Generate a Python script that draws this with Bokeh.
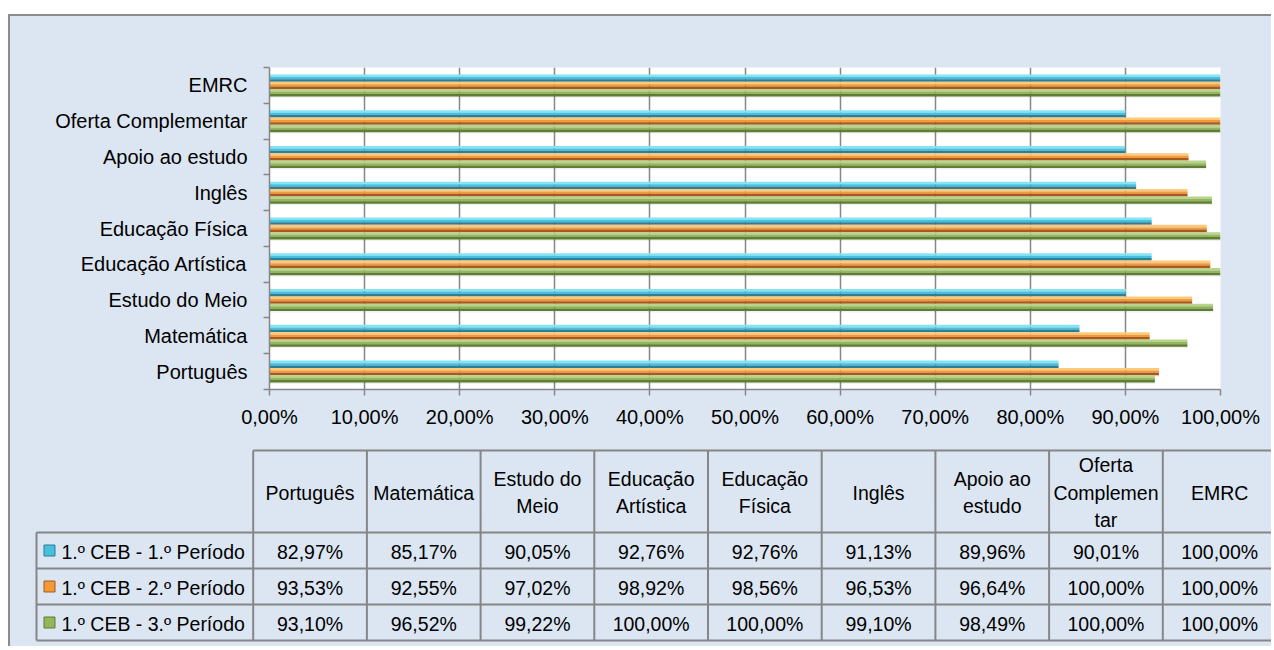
from bokeh.plotting import figure
from bokeh.models import Range1d, FixedTicker, CustomJSTickFormatter
from bokeh.core.properties import value
from bokeh.embed import file_html
from bokeh.resources import INLINE

# ---------------- data ----------------
categories = ["Português", "Matemática", "Estudo do Meio", "Educação Artística",
              "Educação Física", "Inglês", "Apoio ao estudo", "Oferta Complementar", "EMRC"]
header_labels = ["Português", "Matemática", "Estudo do\nMeio", "Educação\nArtística",
                 "Educação\nFísica", "Inglês", "Apoio ao\nestudo", "Oferta\nComplemen\ntar", "EMRC"]
series_names = ["1.º CEB - 1.º Período", "1.º CEB - 2.º Período", "1.º CEB - 3.º Período"]
periodo1 = [82.97, 85.17, 90.05, 92.76, 92.76, 91.13, 89.96, 90.01, 100.00]
periodo2 = [93.53, 92.55, 97.02, 98.92, 98.56, 96.53, 96.64, 100.00, 100.00]
periodo3 = [93.10, 96.52, 99.22, 100.00, 100.00, 99.10, 98.49, 100.00, 100.00]
x_ticks = [0, 10, 20, 30, 40, 50, 60, 70, 80, 90, 100]

# ---------------- style ----------------
BG = "#dce6f2"
GRID = "#868686"
FONT = "Liberation Sans"
FS = "19.5px"
FS_AX = "20px"
W = 1263
# (light, main, dark) for each series
palettes = [("#86e3f6", "#46c0dd", "#2c7f95"),
            ("#fdc97c", "#f29a38", "#a9581f"),
            ("#bad38c", "#93b55b", "#5f7d33")]
series_values = [periodo1, periodo2, periodo3]

# ---------------- bar chart ----------------
p = figure(width=W, height=424, x_range=Range1d(0, 100), y_range=Range1d(0, len(categories)),
           output_backend="svg", toolbar_location=None,
           min_border_left=259, min_border_right=W + 10 - 1220, min_border_top=51, min_border_bottom=51,
           background_fill_color="white", border_fill_color=BG, outline_line_color=None)
p.margin = (14, 0, 0, 8)
p.styles = {"border-left": "2px solid #8c8c8c", "border-top": "2px solid #8c8c8c",
            "background-color": BG}

H = 0.205
offsets = [H, 0.0, -H]
ypos = [i + 0.5 for i in range(len(categories))]
for vals, off, (light, main, dark) in zip(series_values, offsets, palettes):
    yc = [y + off for y in ypos]
    p.hbar(y=[y - 0.04 for y in yc], height=H, left=0, right=vals,
           fill_color="#000000", fill_alpha=0.06, line_color=None)
    p.hbar(y=[y + 0.325 * H for y in yc], height=0.35 * H, left=0, right=vals,
           fill_color=light, line_color=None)
    p.hbar(y=yc, height=0.30 * H, left=0, right=vals, fill_color=main, line_color=None)
    p.hbar(y=[y - 0.325 * H for y in yc], height=0.35 * H, left=0, right=vals,
           fill_color=dark, line_color=None)

p.xaxis.ticker = FixedTicker(ticks=x_ticks)
p.xaxis.formatter = CustomJSTickFormatter(code="return tick.toFixed(2).replace('.', ',') + '%';")
p.yaxis.ticker = FixedTicker(ticks=ypos, minor_ticks=list(range(len(categories) + 1)))
p.yaxis.formatter = CustomJSTickFormatter(args=dict(names=categories),
                                          code="return names[Math.floor(tick)];")
for ax in (p.xaxis, p.yaxis):
    ax.axis_line_color = GRID
    ax.axis_line_width = 1.5
    ax.major_label_text_font = FONT
    ax.major_label_text_font_size = FS_AX
    ax.major_label_text_color = "#000000"
    ax.major_tick_line_color = GRID
    ax.major_tick_line_width = 1.5
    ax.minor_tick_line_color = GRID
    ax.minor_tick_line_width = 1.5
p.xaxis.major_tick_out = 6
p.xaxis.major_tick_in = 0
p.xaxis.major_label_standoff = 10
p.yaxis.major_tick_out = 0
p.yaxis.major_tick_in = 0
p.yaxis.minor_tick_out = 6
p.yaxis.minor_tick_in = 0
p.yaxis.major_label_standoff = 16
p.xgrid.grid_line_color = GRID
p.xgrid.grid_line_width = 1.5
p.ygrid.visible = False

# ---------------- data table ----------------
TH = 208
t = figure(width=W, height=TH, x_range=Range1d(10, 10 + W), y_range=Range1d(440 + TH, 440),
           output_backend="svg", toolbar_location=None, min_border=0,
           x_axis_location=None, y_axis_location=None,
           background_fill_color=BG, border_fill_color=BG, outline_line_color=None)
t.margin = (0, 0, 0, 8)
t.styles = {"border-left": "2px solid #8c8c8c", "background-color": BG}
t.grid.visible = False

col_x0 = 252.7
col_w = 113.7
leg_x0 = 36
head_top, head_bot = 452, 534
row_h = 36
n = len(categories)
right_edge = 1290
bounds = [col_x0 + k * col_w for k in range(n + 1)]
row_lines = [head_bot + k * row_h for k in range(4)]

hx0 = [col_x0] + [leg_x0] * len(row_lines)
hx1 = [right_edge] * (1 + len(row_lines))
hy = [head_top] + row_lines
t.segment(x0=hx0, y0=hy, x1=hx1, y1=hy, line_color=GRID, line_width=2)
vx = [leg_x0] + bounds
vy0 = [head_bot] + [head_top] * len(bounds)
vy1 = [row_lines[-1]] * len(vx)
t.segment(x0=vx, y0=vy0, x1=vx, y1=vy1, line_color=GRID, line_width=2)

centers = [(bounds[k] + bounds[k + 1]) / 2 for k in range(n)]
t.text(x=centers, y=[(head_top + head_bot) / 2 + 1] * n, text=header_labels,
       text_align="center", text_baseline="middle", text_font=value(FONT),
       text_font_size=FS, text_color="#000000", text_line_height=1.25)

for r, (name, vals, (light, main, dark)) in enumerate(zip(series_names, series_values, palettes)):
    yc = head_bot + row_h * r + row_h / 2
    t.scatter(x=[49], y=[yc], marker="square", size=11, fill_color=main, line_color=dark)
    t.text(x=[61], y=[yc + 1], text=[name], text_align="left", text_baseline="middle",
           text_font=value(FONT), text_font_size=FS, text_color="#000000")
    labels = [f"{v:.2f}".replace(".", ",") + "%" for v in vals]
    t.text(x=centers, y=[yc + 1] * n, text=labels, text_align="center", text_baseline="middle",
           text_font=value(FONT), text_font_size=FS, text_color="#000000")

open("out.html", "w").write(file_html([p, t], INLINE))
